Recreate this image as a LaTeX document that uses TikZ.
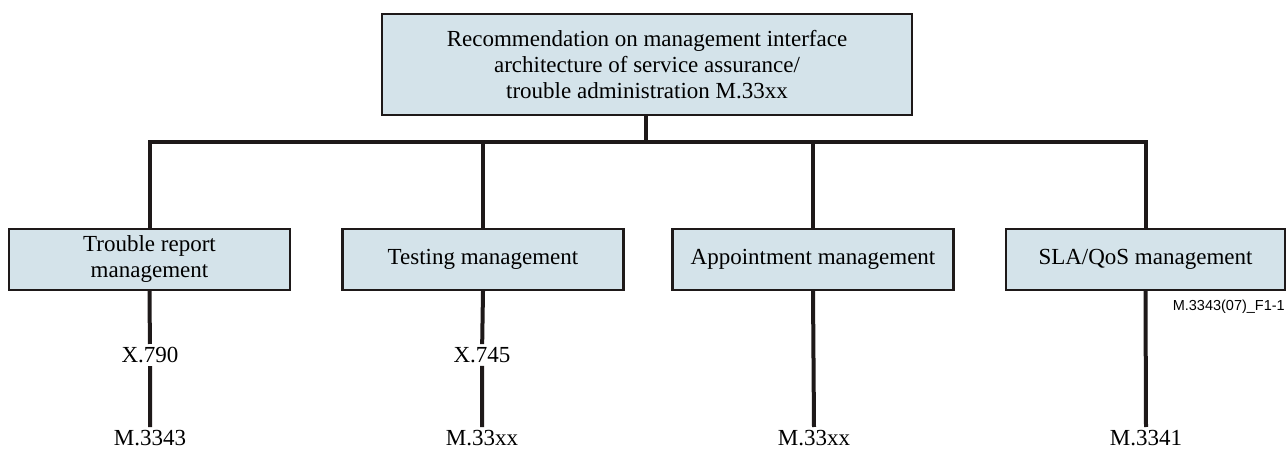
\documentclass[tikz,border=0pt]{standalone}
\usepackage{fontspec}
\setmainfont{Liberation Serif}
\newfontfamily\labelsans{Liberation Sans}
\definecolor{boxfill}{RGB}{212,227,234}
\definecolor{ink}{RGB}{30,25,25}
\begin{document}
\begin{tikzpicture}[x=1pt,y=-1pt,
  mbox/.style={draw=ink,line width=2.4pt,fill=boxfill,minimum width=281pt,minimum height=61pt,
    align=center,inner sep=0pt,font=\fontsize{23}{26}\selectfont},
  conn/.style={draw=ink,line width=4pt},
  reflabel/.style={inner sep=3pt,font=\fontsize{23}{26}\selectfont},
]
\useasboundingbox (0,0) rectangle (1286,457);
\node[mbox,minimum width=530pt,minimum height=101pt] (top) at (647,64.5)
  {Recommendation on management interface\\architecture of service assurance/\\trouble administration M.33xx};
\node[mbox] (b1) at (149.5,259.5) {Trouble report\\management};
\node[mbox] (b2) at (483,259.5) {Testing management};
\node[mbox] (b3) at (813,259.5) {Appointment management};
\node[mbox,minimum width=279pt] (b4) at (1145.5,259.5) {SLA/QoS management};
\coordinate (j) at (646,142);
\draw[conn] (top.south -| j) -- (j);
\draw[conn] (b1.north) |- (j) -| (b4.north);
\draw[conn] (b2.north) -- (b2.north |- j);
\draw[conn] (b3.north) -- (b3.north |- j);
% references
\node[reflabel] (x1) at (150,355) {X.790};
\node[reflabel] (x2) at (482,355) {X.745};
\coordinate (e1) at (150,427);
\coordinate (e2) at (482,427);
\coordinate (e3) at (814,427);
\coordinate (e4) at (1146,427);
\draw[conn] (b1.south) -- (x1) -- (e1);
\draw[conn] (b2.south) -- (x2) -- (e2);
\draw[conn] (b3.south) -- (e3);
\draw[conn] (b4.south) -- (e4);
\node[reflabel,anchor=north] (m1) at (e1) {M.3343};
\node[reflabel,anchor=north] (m2) at (e2) {M.33xx};
\node[reflabel,anchor=north] (m3) at (e3) {M.33xx};
\node[reflabel,anchor=north] (m4) at (e4) {M.3341};
\node[anchor=east,inner sep=0pt,font=\labelsans\fontsize{14.5}{16}\selectfont] (fig) at (1285,307) {M.3343(07)\_F1-1};
\end{tikzpicture}
\end{document}
